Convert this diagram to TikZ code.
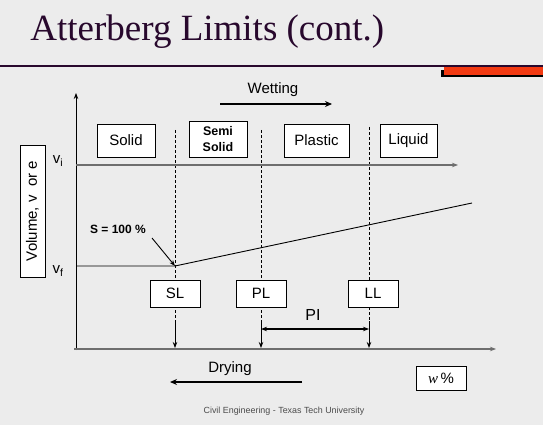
\documentclass[tikz,border=0pt]{standalone}
\usepackage{fontspec}
\setmainfont{Liberation Sans}
\newfontfamily\titlefont{Liberation Serif}
\usetikzlibrary{shapes, arrows, arrows.meta, positioning}
\definecolor{slidebg}{RGB}{236,236,236}
\definecolor{titlepurple}{RGB}{40,8,45}
\definecolor{barred}{RGB}{242,58,18}
\definecolor{axisgray}{RGB}{110,110,110}

\begin{document}
\begin{tikzpicture}[x=1pt, y=-1pt, auto, line width=0.9pt]
    \tikzstyle{phase} = [rectangle, draw, fill=white, font=\fontsize{15}{15}\selectfont, minimum height=33pt, inner sep=0pt]
    \tikzstyle{limit} = [rectangle, draw, fill=white, font=\fontsize{15}{15}\selectfont, minimum width=50pt, minimum height=27pt, inner sep=0pt]
    \tikzstyle{label} = [font=\fontsize{15}{15}\selectfont, inner sep=0pt]
    \tikzstyle{arrow} = [-{Stealth[length=6pt,width=4.5pt]}]
    \tikzstyle{fatarrow} = [-{Stealth[length=7pt,width=6pt]}, line width=2.4pt]
    \tikzstyle{guide} = [dash pattern=on 3pt off 2pt]

    % slide background and title
    \fill [slidebg] (0,0) rectangle (543,425);
    \useasboundingbox (0,0) rectangle (543,425);
    \node [anchor=base west, inner sep=0pt, text=titlepurple, font=\titlefont\fontsize{37}{37}\selectfont] (title) at (30,41) {Atterberg Limits (cont.)};
    \draw [titlepurple, line width=1.2pt] (0,66) -- (543,66);
    \fill [black] (441,70) rectangle (543,77);
    \fill [barred] (444,67) rectangle (543,75);

    % axes
    \coordinate (O) at (76,349);
    \coordinate (ytop) at (76,93);
    \coordinate (xend) at (496,349);
    \draw [arrow] (76,350) -- (ytop);
    \draw [arrow, axisgray, line width=1.6pt] (74,349) -- (xend);

    % guide lines
    \coordinate (sltop) at (175,130);
    \coordinate (pltop) at (261,130);
    \coordinate (lltop) at (369,127);
    \coordinate (slmid) at (175,321);
    \coordinate (plmid) at (261,321);
    \coordinate (llmid) at (369,321);
    \draw [guide] (sltop) -- (slmid);
    \draw [guide] (pltop) -- (plmid);
    \draw [guide] (lltop) -- (llmid);

    % volume lines
    \coordinate (vistart) at (76,165);
    \coordinate (viend) at (458,165);
    \coordinate (vfstart) at (76,266);
    \coordinate (slcorner) at (175,266);
    \coordinate (wetend) at (472,203);
    \draw [arrow, axisgray, line width=1.4pt] (vistart) -- (viend);
    \draw (vfstart) -- (slcorner) -- (wetend);

    % phase boxes
    \node [phase, minimum width=58pt] (solid) at (126,140.5) {Solid};
    \node [phase, minimum width=58pt, minimum height=36pt, font=\bfseries\fontsize{12.5}{15.5}\selectfont, align=center] (semi) at (218,139) {Semi\\Solid};
    \node [phase, minimum width=65pt] (plastic) at (316.5,140.5) {Plastic};
    \node [phase, minimum width=57pt] (liquid) at (408.5,140.5) {Liquid};

    % limit boxes
    \node [limit] (SL) at (175,293.5) {SL};
    \node [limit] (PL) at (261,293.5) {PL};
    \node [limit] (LL) at (373,293.5) {LL};

    \draw [arrow] (slmid) -- (175,348);
    \draw [arrow] (plmid) -- (261,348);
    \draw [arrow] (llmid) -- (369,348);

    % plasticity index
    \coordinate (pileft) at (261,329);
    \coordinate (piright) at (369,329);
    \draw [{Stealth[length=6pt,width=4.5pt]}-{Stealth[length=6pt,width=4.5pt]}, line width=1.2pt] (pileft) -- (piright);
    \node [label, font=\fontsize{16}{16}\selectfont] (PI) at (313,315) {PI};

    % axis labels
    \node [rectangle, draw, fill=white, rotate=90, minimum width=132pt, minimum height=25pt, inner sep=0pt, font=\fontsize{15}{15}\selectfont] (volume) at (32.5,211) {Volume, v\ \ or e};
    \node [label] (vi) at (58,161) {v\textsubscript{i}};
    \node [label] (vf) at (58,271) {v\textsubscript{f}};
    \node [rectangle, draw, fill=white, minimum width=50pt, minimum height=24pt, inner sep=0pt, font=\fontsize{15}{15}\selectfont] (wpct) at (441,378) {{\titlefont\itshape w}\,\%};

    % saturation
    \node [label, font=\bfseries\fontsize{12}{12}\selectfont] (sat) at (118,229) {S = 100 \%};
    \draw [arrow] (152,238) -- (slcorner);

    % wetting and drying
    \node [label] (wetting) at (273,90) {Wetting};
    \coordinate (wetA) at (220,104);
    \coordinate (wetB) at (332,104);
    \draw [fatarrow] (wetA) -- (wetB);
    \node [label] (drying) at (230,369) {Drying};
    \coordinate (dryA) at (302,382);
    \coordinate (dryB) at (170,382);
    \draw [fatarrow] (dryA) -- (dryB);

    % footer
    \node [inner sep=0pt, text=black!70, font=\fontsize{8.9}{9}\selectfont] (footer) at (284,411) {Civil Engineering - Texas Tech University};
\end{tikzpicture}
\end{document}
